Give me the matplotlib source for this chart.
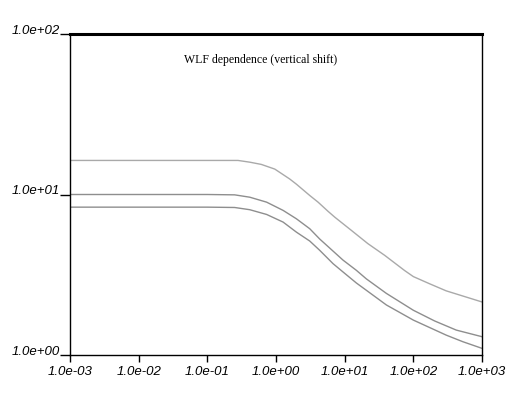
import matplotlib
matplotlib.use("Agg")
import matplotlib.pyplot as plt
from matplotlib.ticker import FixedLocator, NullLocator

# ---- data ----
x1 = [1e-3, 0.01, 0.1, 0.28, 0.415, 0.61, 0.96, 1.58, 1.98, 3.1, 4.1, 5.7, 7.16, 12.5,
      21.8, 38.2, 74.6, 100, 172, 301, 1000]
y1 = [16.3, 16.3, 16.3, 16.3, 15.9, 15.4, 14.4, 12.5, 11.6, 9.86, 8.96, 7.87, 7.23, 5.98,
      4.94, 4.18, 3.36, 3.08, 2.78, 2.51, 2.14]

x2 = [1e-3, 0.01, 0.1, 0.25, 0.415, 0.73, 1.27, 1.98, 3.1, 4.33, 9.47, 14.8, 20.7, 40.5,
      100, 204, 421, 1000]
y2 = [10.0, 10.0, 10.0, 9.95, 9.62, 8.96, 7.96, 7.06, 6.12, 5.28, 3.90, 3.37, 2.98, 2.42,
      1.90, 1.63, 1.43, 1.30]

x3 = [1e-3, 0.01, 0.1, 0.25, 0.415, 0.73, 1.27, 1.98, 3.1, 4.33, 6.76, 9.47, 14.8, 20.7,
      40.5, 100, 301, 526, 1000]
y3 = [8.34, 8.34, 8.34, 8.3, 8.04, 7.51, 6.73, 5.83, 5.13, 4.49, 3.71, 3.29, 2.81, 2.53,
      2.05, 1.65, 1.33, 1.21, 1.10]

x_ticks = [1e-3, 1e-2, 1e-1, 1e0, 1e1, 1e2, 1e3]
x_tick_labels = ["1.0e-03", "1.0e-02", "1.0e-01", "1.0e+00", "1.0e+01", "1.0e+02", "1.0e+03"]
y_ticks = [1, 10, 100]
y_tick_labels = ["1.0e+00", "1.0e+01", "1.0e+02"]
title = "WLF dependence (vertical shift)"

fig = plt.figure(figsize=(5.22, 3.95), dpi=100)
ax = fig.add_axes([70/522, 40/395, 412/522, 321/395])

ax.plot(x1, y1, color="#a9a9a9", lw=1.0)
ax.plot(x2, y2, color="#8e8e8e", lw=1.0)
ax.plot(x3, y3, color="#8e8e8e", lw=1.0)

ax.set_xscale("log")
ax.set_yscale("log")
ax.set_xlim(1e-3, 1e3)
ax.set_ylim(1, 100)

ax.xaxis.set_major_locator(FixedLocator(x_ticks))
ax.xaxis.set_minor_locator(NullLocator())
ax.yaxis.set_major_locator(FixedLocator(y_ticks))
ax.yaxis.set_minor_locator(NullLocator())
ax.set_xticklabels(x_tick_labels)
ax.set_yticklabels(y_tick_labels)

tick_font = dict(family="Liberation Sans", style="italic", size=9.5)
for lbl in ax.get_xticklabels():
    lbl.set(**tick_font)
for lbl in ax.get_yticklabels():
    lbl.set(**tick_font)
    lbl.set_verticalalignment("baseline")

ax.tick_params(axis="x", direction="out", length=5, width=1, pad=3, color="black")
ax.tick_params(axis="y", direction="out", length=7, width=1, pad=0, color="black")

for s in ["left", "bottom", "right"]:
    ax.spines[s].set_linewidth(1.0)
    ax.spines[s].set_color("black")
ax.spines["top"].set_linewidth(2.2)
ax.spines["top"].set_color("black")

ax.text(0.463, 0.92, title, transform=ax.transAxes, ha="center", va="center",
        fontsize=8.5, family="Liberation Serif")

fig.savefig("out.png", dpi=100)
